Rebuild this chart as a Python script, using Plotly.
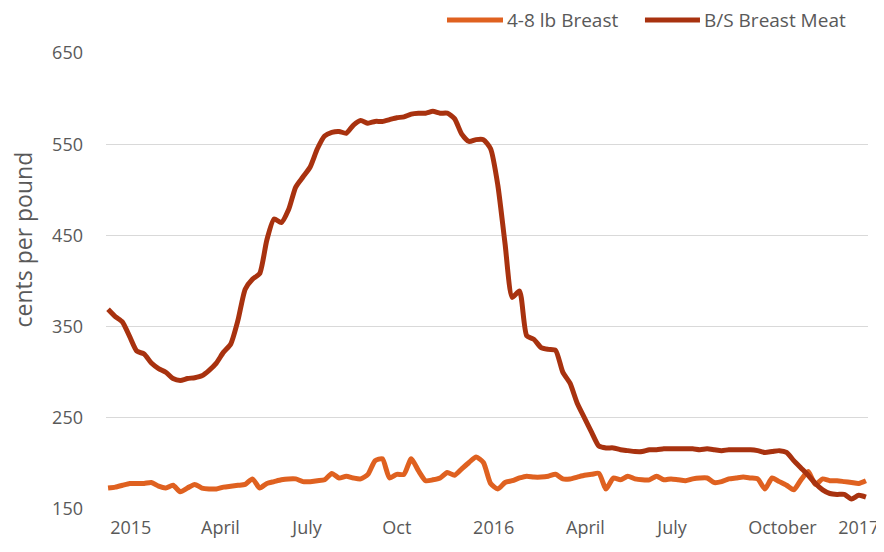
import pandas as pd
import plotly.graph_objects as go

# Weekly dates, Jan 2015 - Jan 2017
weeks = pd.date_range("2015-01-02", periods=106, freq="7D")

breast_4_8 = [
    173, 174, 176, 178, 178, 178, 179, 175, 173, 176,
    169, 173, 177, 173, 172, 172, 174, 175, 176, 177,
    183, 173, 178, 180, 182, 183, 183, 180, 180, 181,
    182, 189, 184, 186, 184, 183, 188, 203, 205, 184,
    188, 188, 205, 192, 181, 182, 184, 190, 187, 194,
    201, 207, 201, 178, 172, 179, 181, 184, 186, 185,
    185, 186, 188, 183, 183, 185, 187, 188, 189, 172,
    184, 182, 186, 183, 182, 182, 186, 182, 183, 182,
    181, 183, 184, 184, 179, 180, 183, 184, 185, 184,
    183, 172, 184, 180, 176, 171, 182, 191, 177, 183,
    181, 181, 180, 179, 178, 181,
]

bs_breast_meat = [
    369, 361, 355, 339, 323, 320, 310, 304, 300, 293,
    291, 293, 294, 296, 302, 310, 322, 331, 357, 391,
    402, 408, 445, 468, 464, 478, 503, 514, 525, 545,
    559, 563, 564, 562, 571, 576, 573, 575, 575, 577,
    579, 580, 583, 584, 584, 586, 584, 584, 578, 561,
    553, 555, 555, 545, 505, 441, 382, 389, 340, 336,
    327, 325, 324, 300, 288, 266, 250, 234, 219, 217,
    217, 215, 214, 213, 213, 215, 215, 216, 216, 216,
    216, 216, 215, 216, 215, 214, 215, 215, 215, 215,
    214, 212, 213, 214, 212, 203, 195, 187, 178, 171,
    167, 166, 166, 161, 165, 163,
]

series_names = ["4-8 lb Breast", "B/S Breast Meat"]
series_colors = ["#DF6120", "#A8320F"]

tick_dates = ["2015-01-24", "2015-04-21", "2015-07-14", "2015-10-09",
              "2016-01-11", "2016-04-09", "2016-07-02", "2016-10-17", "2016-12-30"]
tick_labels = ["2015", "April", "July", "Oct", "2016", "April", "July", "October", "2017"]
y_ticks = [150, 250, 350, 450, 550, 650]

FONT = "Open Sans"
GREY = "#595959"

fig = go.Figure()
for vals, name, col in zip([breast_4_8, bs_breast_meat], series_names, series_colors):
    fig.add_trace(go.Scatter(x=weeks, y=vals, name=name, mode="lines", showlegend=False,
                             line=dict(color=col, width=5, shape="spline", smoothing=0.6)))

# Custom legend (swatch line + label) placed above the plot area
legend_swatches = [(0.4475, 0.521), (0.7073, 0.7795)]
legend_y = 1.0724
shapes = []
annotations = []
for (x0, x1), name, col in zip(legend_swatches, series_names, series_colors):
    shapes.append(dict(type="line", xref="paper", yref="paper", x0=x0, x1=x1,
                       y0=legend_y, y1=legend_y, line=dict(color=col, width=5)))
    annotations.append(dict(text=name, xref="paper", yref="paper", x=x1, y=legend_y,
                            xanchor="left", yanchor="middle", xshift=3, showarrow=False,
                            borderpad=0, font=dict(family=FONT, size=19, color=GREY)))

annotations.append(dict(text="cents per pound", xref="paper", yref="paper",
                        x=0, y=0.591, xshift=-83, xanchor="center", yanchor="middle",
                        textangle=-90, showarrow=False, borderpad=0,
                        font=dict(family=FONT, size=23, color=GREY)))

# The page body adds an 8px offset, so the figure is sized/margined to compensate
fig.update_layout(
    width=876, height=544,
    margin=dict(l=98, r=16, t=45, b=43, autoexpand=False),
    paper_bgcolor="white", plot_bgcolor="white",
    font=dict(family=FONT, size=18, color=GREY),
    showlegend=False,
    xaxis=dict(range=["2014-12-31", "2017-01-08"], tickmode="array",
               tickvals=tick_dates, ticktext=tick_labels, showgrid=False,
               zeroline=False, showline=False, ticks="", ticklabelstandoff=6,
               tickfont=dict(family=FONT, size=18, color=GREY)),
    yaxis=dict(range=[150, 650], tickmode="array", tickvals=y_ticks,
               showgrid=True, gridcolor="#D9D9D9", gridwidth=1.3, zeroline=False,
               showline=False, ticks="", ticklabelstandoff=22,
               tickfont=dict(family=FONT, size=18, color=GREY)),
    shapes=shapes,
    annotations=annotations,
)

fig.write_html("out.html")
